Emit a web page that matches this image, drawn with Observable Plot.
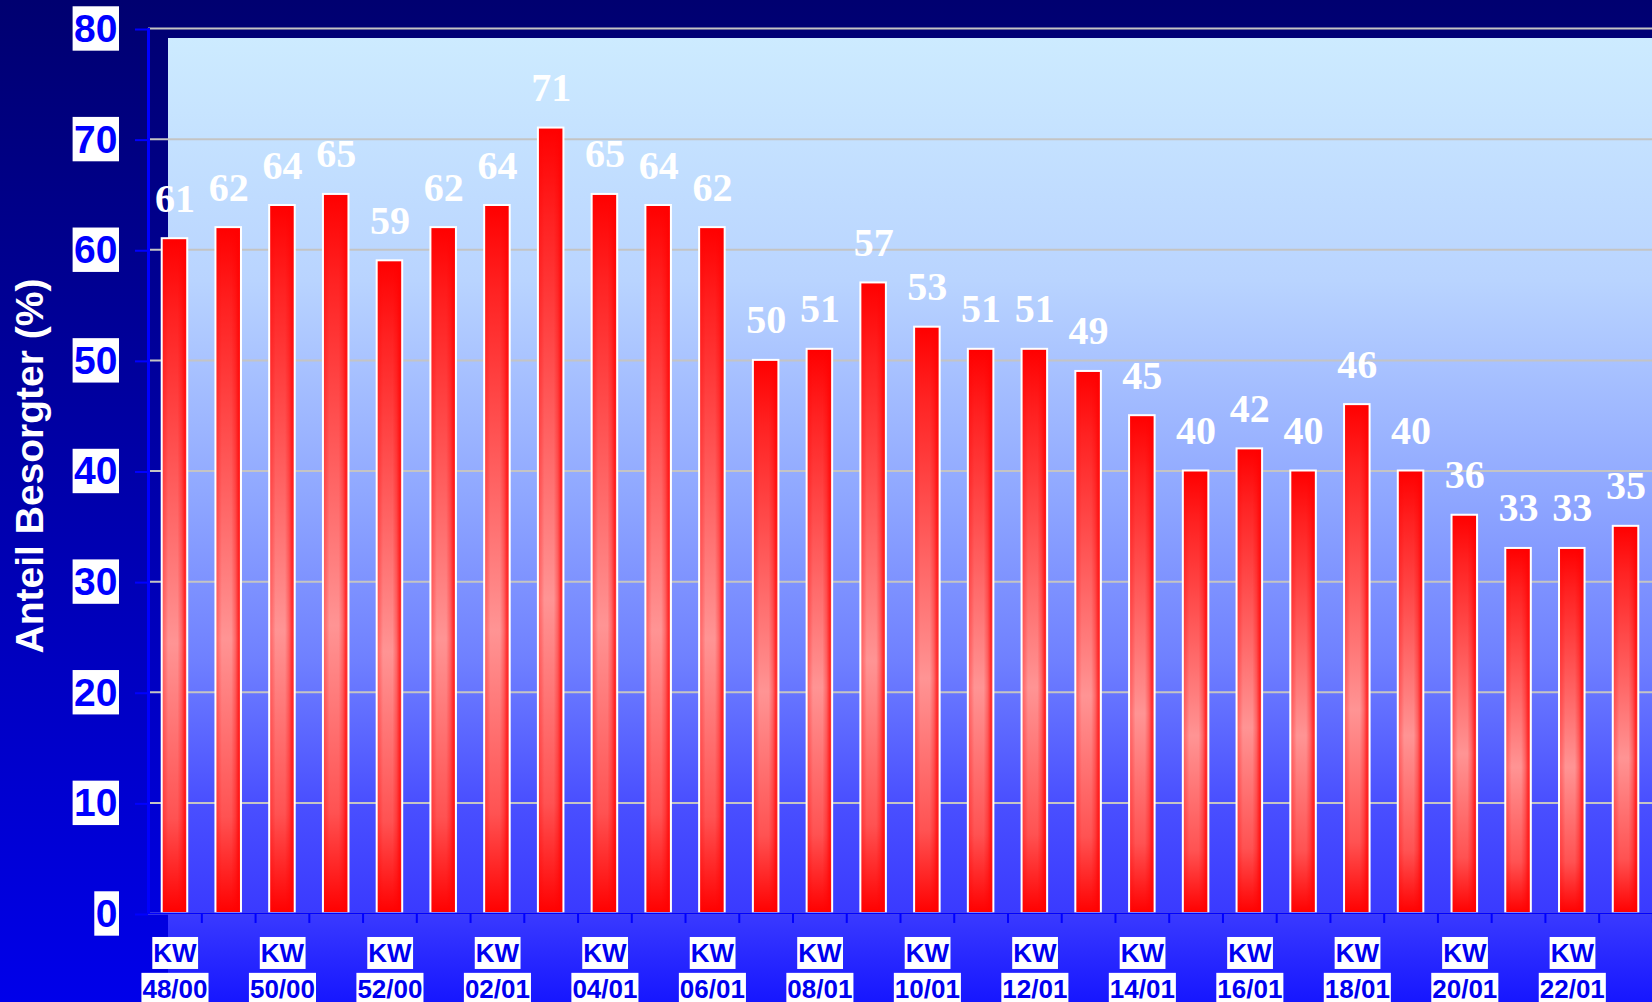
<!DOCTYPE html>
<html>
<head>
<meta charset="utf-8">
<script src="https://cdn.jsdelivr.net/npm/d3@7"></script>
<script src="https://cdn.jsdelivr.net/npm/@observablehq/plot@0.6"></script>
<style>
  html, body { margin: 0; padding: 0; }
  body {
    width: 1652px; height: 1002px; overflow: hidden;
    background: linear-gradient(to bottom, #000070 0%, #0000a0 40%, #0000ea 100%);
  }
  #chart { position: relative; width: 1652px; height: 1002px; }
  /* back wall of the chart, behind the bars */
  #wall {
    position: absolute; left: 168px; top: 38px; right: 0; bottom: 0;
    background: linear-gradient(to bottom,
      rgb(205,235,255) 0px,
      rgb(185,212,255) 242px,
      rgb(142,166,255) 462px,
      rgb(111,128,255) 622px,
      rgb(74,80,255) 762px,
      rgb(58,58,255) 875px,
      rgb(22,22,255) 964px);
  }
  #chart svg { position: absolute; left: 0; top: 0; }
</style>
</head>
<body>
<div id="chart"><div id="wall"></div></div>
<script>
// Calendar weeks (KW) from week 48/2000 to week 23/2001
const weeks = ["48/00","49/00","50/00","51/00","52/00","01/01","02/01","03/01","04/01","05/01",
               "06/01","07/01","08/01","09/01","10/01","11/01","12/01","13/01","14/01","15/01",
               "16/01","17/01","18/01","19/01","20/01","21/01","22/01","23/01"];
// Share of worried respondents (%)
const shares = [61,62,64,65,59,62,64,71,65,64,62,50,51,57,53,51,51,49,45,40,42,40,46,40,36,33,33,35];
// Every second week carries an axis label
const labeledWeeks = weeks.filter((_, i) => i % 2 === 0);
const yTicks = [0,10,20,30,40,50,60,70,80];
const yTitle = "Anteil Besorgter (%)";

const data = weeks.map((week, i) => ({week, share: shares[i]}));

const W = 1652, H = 1002;
const mL = 148, mR = 0, mT = 28, mB = 89;
const padIn = 0.525, padOut = 0.255;
const step = (W - mL - mR) / (weeks.length - padIn + 2 * padOut);
const bw = step * (1 - padIn);

const blue = "#0000ff";
const sans = "Liberation Sans, Arial, sans-serif";

const svg = Plot.plot({
  width: W, height: H,
  marginLeft: mL, marginRight: mR, marginTop: mT, marginBottom: mB,
  style: {background: "transparent", overflow: "visible"},
  x: {type: "band", domain: weeks, paddingInner: padIn, paddingOuter: padOut, round: false},
  y: {domain: [0, 80]},
  marks: [
    Plot.gridY(yTicks, {stroke: "#c4c4c4", strokeOpacity: 1, strokeWidth: 2}),
    // bars: vertical shading plus edge shading and white outline
    Plot.barY(data, {x: "week", y: "share", fill: "url(#barShade)"}),
    Plot.barY(data, {x: "week", y: "share", fill: "url(#barEdge)", stroke: "white", strokeWidth: 2}),
    // axis lines and ticks
    Plot.ruleY([0], {stroke: blue, strokeWidth: 2}),
    Plot.ruleX([weeks[0]], {x: d => d, y1: 0, y2: 80, dx: -(padOut * step + bw / 2), stroke: blue, strokeWidth: 3}),
    Plot.ruleX(weeks, {x: d => d, y1: 0, y2: -0.9, dx: step / 2, stroke: blue, strokeWidth: 2}),
    // value labels
    Plot.text(data, {
      x: "week", y: "share", text: d => String(d.share),
      lineAnchor: "bottom", dy: -27,
      fill: "white", fontFamily: "Liberation Serif, Times New Roman, serif",
      fontWeight: "bold", fontSize: 40
    }),
    Plot.axisY({
      ticks: yTicks, tickSize: 13, tickPadding: 18, label: null,
      stroke: blue, strokeWidth: 2, fill: blue,
      fontFamily: sans, fontWeight: "bold", fontSize: 39, dy: 1
    }),
    Plot.axisX({
      ticks: labeledWeeks, tickSize: 0, tickPadding: 23, label: null,
      tickFormat: d => "KW\n" + d,
      fill: "#0000f0", fontFamily: sans, fontWeight: "bold", fontSize: 26, lineHeight: 1.38
    }),
    Plot.text([yTitle], {
      text: d => d, frameAnchor: "left", textAnchor: "middle", lineAnchor: "middle",
      rotate: -90, dx: -118, dy: -5,
      fill: "white", fontFamily: sans, fontWeight: "bold", fontSize: 39
    })
  ]
});

const ns = "http://www.w3.org/2000/svg";
const defs = document.createElementNS(ns, "defs");
defs.innerHTML = `
  <linearGradient id="barShade" x1="0" y1="0" x2="0" y2="1">
    <stop offset="0" stop-color="#ff0000"/>
    <stop offset="0.12" stop-color="#ff2222"/>
    <stop offset="0.6" stop-color="#ff9494"/>
    <stop offset="0.86" stop-color="#ff5252"/>
    <stop offset="1" stop-color="#ff0000"/>
  </linearGradient>
  <linearGradient id="barEdge" x1="0" y1="0" x2="1" y2="0">
    <stop offset="0" stop-color="#ff0000" stop-opacity="0.35"/>
    <stop offset="0.14" stop-color="#ff0000" stop-opacity="0.18"/>
    <stop offset="0.25" stop-color="#ff0000" stop-opacity="0"/>
    <stop offset="0.62" stop-color="#ff0000" stop-opacity="0"/>
    <stop offset="0.78" stop-color="#ff0000" stop-opacity="0.3"/>
    <stop offset="0.9" stop-color="#ff0000" stop-opacity="0.7"/>
    <stop offset="1" stop-color="#ff0000" stop-opacity="0.45"/>
  </linearGradient>`;
svg.insertBefore(defs, svg.firstChild);

document.getElementById("chart").appendChild(svg);

// white boxes behind the axis tick labels
function boxLabels(label, padX, padY) {
  const g = svg.querySelector(`g[aria-label="${label}"]`);
  if (!g) return;
  g.querySelectorAll("text").forEach(t => {
    const spans = t.querySelectorAll("tspan");
    const parts = spans.length ? [...spans] : [t];
    parts.forEach(p => {
      if (!p.textContent.trim()) return;
      const b = p.getBBox();
      const r = document.createElementNS(ns, "rect");
      r.setAttribute("x", b.x - padX);
      r.setAttribute("y", b.y - padY);
      r.setAttribute("width", b.width + 2 * padX);
      r.setAttribute("height", b.height + 2 * padY);
      r.setAttribute("fill", "white");
      r.setAttribute("stroke", "none");
      const tr = t.getAttribute("transform");
      if (tr) r.setAttribute("transform", tr);
      t.parentNode.insertBefore(r, t);
    });
  });
}
boxLabels("y-axis tick label", 1.5, 0.7);
boxLabels("x-axis tick label", 1, 1);
</script>
</body>
</html>
